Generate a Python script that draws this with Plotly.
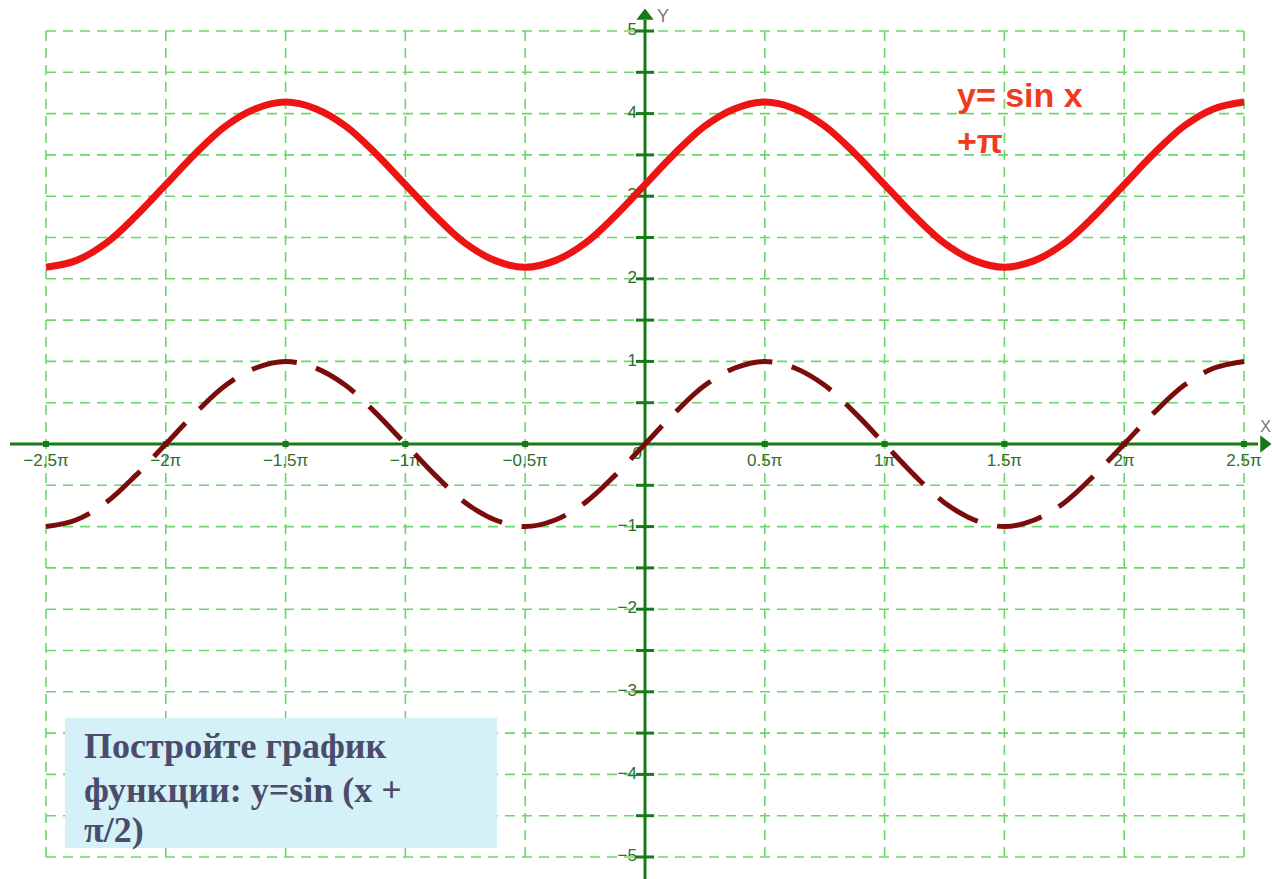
import plotly.graph_objects as go

# ---- data (x in units of pi) ----
x_pi = [-2.5, -2.375, -2.25, -2.125, -2.0, -1.875, -1.75, -1.625, -1.5, -1.375,
        -1.25, -1.125, -1.0, -0.875, -0.75, -0.625, -0.5, -0.375, -0.25, -0.125,
        0.0, 0.125, 0.25, 0.375, 0.5, 0.625, 0.75, 0.875, 1.0, 1.125,
        1.25, 1.375, 1.5, 1.625, 1.75, 1.875, 2.0, 2.125, 2.25, 2.375, 2.5]
sin_vals = [-1.0, -0.92, -0.71, -0.38, 0.0, 0.38, 0.71, 0.92, 1.0, 0.92,
            0.71, 0.38, 0.0, -0.38, -0.71, -0.92, -1.0, -0.92, -0.71, -0.38,
            0.0, 0.38, 0.71, 0.92, 1.0, 0.92, 0.71, 0.38, 0.0, -0.38,
            -0.71, -0.92, -1.0, -0.92, -0.71, -0.38, 0.0, 0.38, 0.71, 0.92, 1.0]
shifted_vals = [2.14, 2.22, 2.43, 2.76, 3.14, 3.52, 3.85, 4.06, 4.14, 4.06,
                3.85, 3.52, 3.14, 2.76, 2.43, 2.22, 2.14, 2.22, 2.43, 2.76,
                3.14, 3.52, 3.85, 4.06, 4.14, 4.06, 3.85, 3.52, 3.14, 2.76,
                2.43, 2.22, 2.14, 2.22, 2.43, 2.76, 3.14, 3.52, 3.85, 4.06, 4.14]

x_tick_vals = [-2.5, -2.0, -1.5, -1.0, -0.5, 0.5, 1.0, 1.5, 2.0, 2.5]
x_tick_labels = ["\u22122,5\u03c0", "\u22122\u03c0", "\u22121,5\u03c0", "\u22121\u03c0", "\u22120,5\u03c0",
                 "0.5\u03c0", "1\u03c0", "1.5\u03c0", "2\u03c0", "2.5\u03c0"]
y_tick_vals = [5, 4, 3, 2, 1, -1, -2, -3, -4, -5]
y_tick_labels = ["5", "4", "3", "2", "1", "\u22121", "\u22122", "\u22123", "\u22124", "\u22125"]
x_grid = [-2.5, -2.0, -1.5, -1.0, -0.5, 0.0, 0.5, 1.0, 1.5, 2.0, 2.5]
y_grid = [-5, -4.5, -4, -3.5, -3, -2.5, -2, -1.5, -1, -0.5, 0,
          0.5, 1, 1.5, 2, 2.5, 3, 3.5, 4, 4.5, 5]

# ---- styles ----
GRID = "#6cd66c"
AXIS = "#167a16"
LABEL = "#2e6e2e"
PX_X = 239.6   # pixels per pi
PX_Y = 82.6    # pixels per unit

x_lo, x_hi = -2.5 - 46 / PX_X, -2.5 + (1272 - 46) / PX_X
y_lo, y_hi = 5 - 848 / PX_Y, 5 + 31 / PX_Y

fig = go.Figure()

# grid
gx, gy = [], []
for xv in x_grid:
    gx += [xv, xv, None]
    gy += [min(y_grid), max(y_grid), None]
fig.add_trace(go.Scatter(x=gx, y=gy, mode="lines",
                         line=dict(color=GRID, width=1.6, dash="10px,7px"),
                         hoverinfo="skip", showlegend=False))
hx, hy = [], []
for yv in y_grid:
    hx += [min(x_grid), max(x_grid), None]
    hy += [yv, yv, None]
fig.add_trace(go.Scatter(x=hx, y=hy, mode="lines",
                         line=dict(color=GRID, width=1.6, dash="10px,7px"),
                         hoverinfo="skip", showlegend=False))

# axes
fig.add_trace(go.Scatter(x=[-2.5 - 36 / PX_X, -2.5 + 1212 / PX_X], y=[0, 0], mode="lines",
                         line=dict(color=AXIS, width=3), hoverinfo="skip", showlegend=False))
fig.add_trace(go.Scatter(x=[0, 0], y=[y_lo, 5 - (20 - 31) / PX_Y], mode="lines",
                         line=dict(color=AXIS, width=3), hoverinfo="skip", showlegend=False))
fig.add_trace(go.Scatter(x=[-2.5 + 1218 / PX_X], y=[0], mode="markers",
                         marker=dict(symbol="triangle-right", size=15, color=AXIS),
                         hoverinfo="skip", showlegend=False))
fig.add_trace(go.Scatter(x=[0], y=[5 - (16 - 31) / PX_Y], mode="markers",
                         marker=dict(symbol="triangle-up", size=15, color=AXIS),
                         hoverinfo="skip", showlegend=False))

# tick marks
fig.add_trace(go.Scatter(x=x_tick_vals, y=[0] * len(x_tick_vals), mode="markers",
                         marker=dict(symbol="square", size=6, color=AXIS),
                         hoverinfo="skip", showlegend=False))
y_minor = [v for v in y_grid if v != 0]
fig.add_trace(go.Scatter(x=[0] * len(y_minor), y=y_minor, mode="markers",
                         marker=dict(symbol="line-ew", size=13, line=dict(color=AXIS, width=3)),
                         hoverinfo="skip", showlegend=False))

# tick labels
fig.add_trace(go.Scatter(x=x_tick_vals, y=[-0.21] * len(x_tick_vals), mode="text",
                         text=x_tick_labels, textposition="middle center",
                         textfont=dict(family="Liberation Sans", size=17, color=LABEL),
                         hoverinfo="skip", showlegend=False, cliponaxis=False))
fig.add_trace(go.Scatter(x=[-8 / PX_X] * len(y_tick_vals), y=y_tick_vals, mode="text",
                         text=y_tick_labels, textposition="middle left",
                         textfont=dict(family="Liberation Sans", size=17, color=LABEL),
                         hoverinfo="skip", showlegend=False, cliponaxis=False))
fig.add_trace(go.Scatter(x=[-3 / PX_X], y=[-0.13], mode="text", text=["0"],
                         textposition="middle left",
                         textfont=dict(family="Liberation Sans", size=17, color=LABEL),
                         hoverinfo="skip", showlegend=False))
fig.add_trace(go.Scatter(x=[12 / PX_X], y=[5 + 14 / PX_Y], mode="text",
                         text=["Y"], textposition="middle right",
                         textfont=dict(family="Liberation Sans", size=18, color="#777777"),
                         hoverinfo="skip", showlegend=False))
fig.add_trace(go.Scatter(x=[2.5 + 27 / PX_X], y=[16 / PX_Y], mode="text",
                         text=["X"], textposition="middle left",
                         textfont=dict(family="Liberation Sans", size=16, color="#777777"),
                         hoverinfo="skip", showlegend=False, cliponaxis=False))

# curves
fig.add_trace(go.Scatter(x=x_pi, y=sin_vals, mode="lines", line_shape="spline",
                         line=dict(color="#7a0c0c", width=5, dash="46px,20px"),
                         hoverinfo="skip", showlegend=False))
fig.add_trace(go.Scatter(x=x_pi, y=shifted_vals, mode="lines", line_shape="spline",
                         line=dict(color="#ee1414", width=7),
                         hoverinfo="skip", showlegend=False))

# text box
fig.add_shape(type="rect", xref="x", yref="y",
              x0=-2.5 + 19 / PX_X, x1=-2.5 + 451 / PX_X,
              y0=5 - (848 - 31) / PX_Y, y1=5 - (718 - 31) / PX_Y,
              fillcolor="#d3f1f6", line=dict(width=0), layer="above")
box_lines = ["Постройте график", "функции: y=sin (x +", "π/2)"]
box_y = [746, 790, 830]
for t, py in zip(box_lines, box_y):
    fig.add_annotation(x=-2.5 + 36 / PX_X, y=5 - (py - 31) / PX_Y, xref="x", yref="y",
                       text="<b>" + t + "</b>", showarrow=False, xanchor="left", yanchor="middle",
                       font=dict(family="Liberation Serif", size=36, color="#4b4b6b"))

# red label
red_lines = ["y= sin x", "+π"]
red_y = [95, 141]
for t, py in zip(red_lines, red_y):
    fig.add_annotation(x=-2.5 + (955 - 46) / PX_X, y=5 - (py - 31) / PX_Y, xref="x", yref="y",
                       text="<b>" + t + "</b>", showarrow=False, xanchor="left", yanchor="middle",
                       font=dict(family="Liberation Sans", size=34, color="#f03c1e"))

fig.update_layout(
    width=1272, height=879,
    margin=dict(l=0, r=0, t=0, b=0),
    paper_bgcolor="white", plot_bgcolor="white",
    xaxis=dict(range=[x_lo, x_hi], visible=False, fixedrange=True),
    yaxis=dict(range=[y_lo, y_hi], visible=False, fixedrange=True),
    showlegend=False,
    hovermode=False,
)

fig.write_html("out.html", config={"displayModeBar": False},
               post_script="document.body.style.margin='0px';")
